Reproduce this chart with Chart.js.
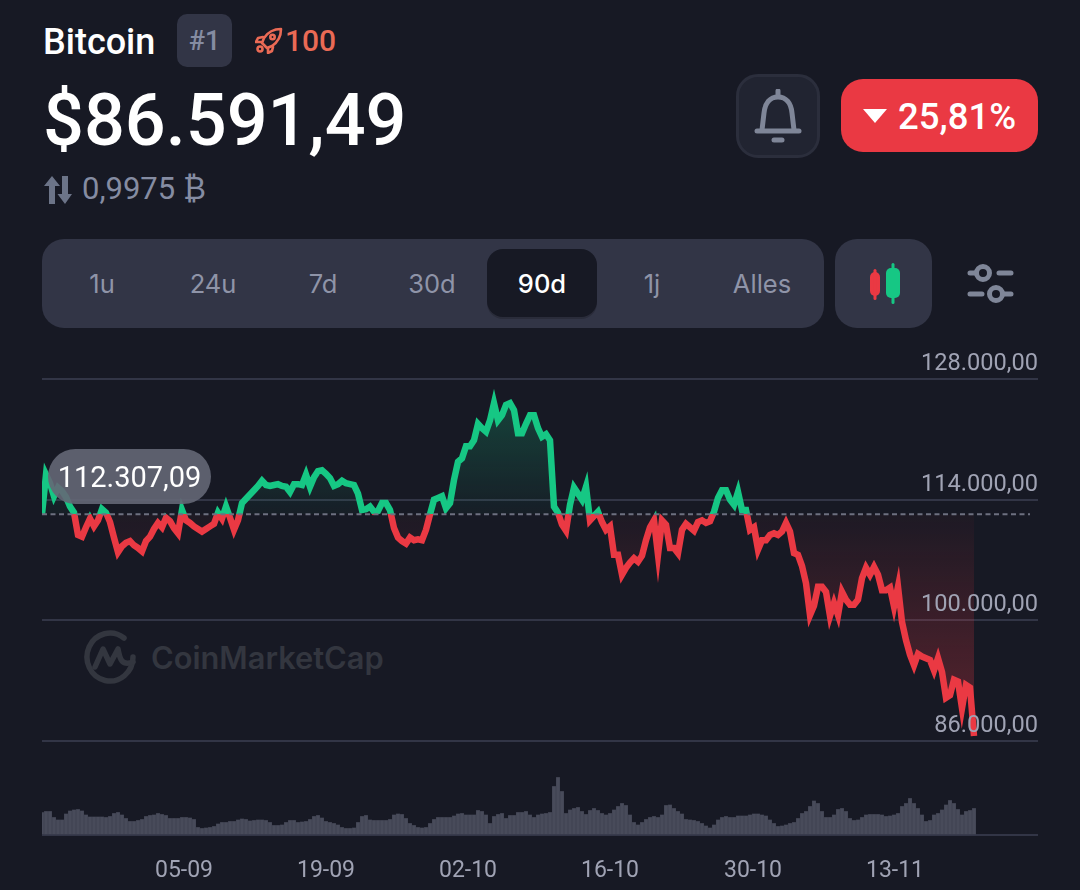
<!DOCTYPE html>
<html>
<head>
<meta charset="utf-8">
<title>Bitcoin</title>
<script src="https://cdn.jsdelivr.net/npm/chart.js@4"></script>
<style>
  html, body { margin: 0; padding: 0; background: #171924; }
  body { position: relative; width: 1080px; height: 890px; overflow: hidden; font-family: Roboto, sans-serif; color: #fff; }
  #page > * { position: absolute; }
  .center { display: flex; align-items: center; justify-content: center; }
  .tab { top: 249px; height: 68px; width: 110px; font-family: Inter, sans-serif; font-size: 25.5px; color: #8f94a8; }
  #chartBox { left: 0; top: 0; width: 1080px; height: 890px; }
  #mark { left: 84px; top: 630px; display: flex; align-items: center; gap: 15px; color: #33363f; font-family: Inter, sans-serif; font-weight: 600; font-size: 30.8px; }
</style>
</head>
<body>
<div id="page">
  <div style="left:43px;top:20px;font-size:36px;font-weight:500;line-height:44px">Bitcoin</div>
  <div class="center" style="left:177px;top:14px;width:55px;height:53px;border-radius:10px;background:#323546;color:#858ca2;font-size:27px;font-weight:500">#1</div>
  <svg style="left:255px;top:27px" width="28" height="27" viewBox="0 0 28 27" fill="none" stroke="#ea6a55" stroke-width="2.6" stroke-linejoin="round" stroke-linecap="round">
    <path d="M9 11 C13 5 19 2 26 2 C26 9 23 15 17 19 L12 21 L7 16 Z"/><circle cx="17.5" cy="10" r="2.2"/><path d="M8 10 L3 11 L1 15 L6 15 M18 20 L17 24 L13 26 L13 21"/><circle cx="5" cy="22" r="2.5"/>
  </svg>
  <div style="left:285px;top:23px;font-size:30px;font-weight:500;line-height:36px;color:#ea6a55">100</div>
  <div style="left:43px;top:78px;font-size:72px;font-weight:500;line-height:86px">$86.591,49</div>
  <svg style="left:42px;top:175px" width="30" height="30" viewBox="0 0 30 30" fill="#6c7488">
    <path d="M10 1 L18 11 L13 11 L13 29 L7 29 L7 11 L2 11 Z"/><path d="M20 1 L26 1 L26 19 L30 19 L23 29 L15.5 19 L20 19 Z"/>
  </svg>
  <div style="left:82px;top:171px;font-size:31px;line-height:36px;color:#858ca2">0,9975 ₿</div>

  <div class="center" style="left:736px;top:74px;width:78px;height:78px;border:3px solid #2b2e3c;border-radius:22px;background:#212431">
    <svg width="48" height="54" viewBox="0 0 48 54" fill="none" stroke="#7f8698" stroke-width="5" stroke-linecap="round" stroke-linejoin="round">
      <path d="M24 2 L24 6"/><path d="M8 41 L10 24 C11 14 16 8 24 8 C32 8 37 14 38 24 L40 41"/><path d="M3 42 L45 42"/><path d="M20 51 L28 51"/>
    </svg>
  </div>
  <div style="left:841px;top:79px;width:197px;height:73px;border-radius:22px;background:#ea3943"></div>
  <svg style="left:863px;top:109px" width="24" height="14" viewBox="0 0 24 14"><path d="M0 0 L24 0 L12 14 Z" fill="#fff"/></svg>
  <div style="left:898px;top:96px;font-size:36.5px;font-weight:500;line-height:42px">25,81%</div>

  <div style="left:42px;top:239px;width:782px;height:89px;border-radius:22px;background:#323546"></div>
  <div style="left:487px;top:249px;width:110px;height:68px;border-radius:16px;background:#171924;box-shadow:0 2px 0 #2a2c3a"></div>
  <div class="tab center" style="left:47px">1u</div>
  <div class="tab center" style="left:158px">24u</div>
  <div class="tab center" style="left:268px">7d</div>
  <div class="tab center" style="left:377px">30d</div>
  <div class="tab center" style="left:487px;color:#fff;font-weight:500">90d</div>
  <div class="tab center" style="left:597px">1j</div>
  <div class="tab center" style="left:707px">Alles</div>

  <div style="left:835px;top:239px;width:97px;height:89px;border-radius:22px;background:#323546"></div>
  <svg style="left:868px;top:262px" width="36" height="44" viewBox="0 0 36 44">
    <rect x="2" y="10" width="10" height="24" rx="5" fill="#ea3943"/><rect x="5.5" y="7" width="3" height="31" rx="1.5" fill="#ea3943"/>
    <rect x="18" y="6" width="14" height="30" rx="5" fill="#16c784"/><rect x="23.5" y="1" width="3" height="41" rx="1.5" fill="#16c784"/>
  </svg>
  <svg style="left:967px;top:263px" width="47" height="42" viewBox="0 0 47 42" fill="none" stroke="#7f8698" stroke-width="5" stroke-linecap="round">
    <circle cx="16" cy="10" r="6.5"/><path d="M3 10 L9 10 M32 10 L44 10"/>
    <circle cx="29" cy="31" r="6.5"/><path d="M3 31 L15 31 M36 31 L44 31"/>
  </svg>

  <div id="mark">
    <svg width="52" height="54" viewBox="0 0 52 54" fill="none" stroke="#33363f" stroke-width="5.5" stroke-linecap="round" stroke-linejoin="round">
      <path d="M49 27 A23 24 0 1 1 40 8"/><path d="M11 37 L19 19 L26 34 L34 19 C36 30 38 36 49 32"/>
    </svg>
    <span>CoinMarketCap</span>
  </div>

  <div id="chartBox"><canvas id="priceChart" width="1080" height="890"></canvas></div>
  <div class="center" style="left:48px;top:449px;width:163px;height:55px;border-radius:28px;background:rgba(100,103,118,0.9);font-size:29px;color:#fff">112.307,09</div>
</div>

<script>
// values, one sample every 9.4 hours or so
const prices = [
  112307, 116900, 115900, 114400, 115400, 115000, 114300, 113200, 112500, 109900, 109700, 110800, 111800, 110900, 111600, 112900,
  112500, 111400, 109600, 107900, 108600, 109000, 109200, 108700, 108400, 108000, 109200, 109700, 110600, 111300, 110800, 111900,
  111500, 110700, 110100, 112800, 111600, 111300, 110900, 110600, 110300, 110600, 110900, 111200, 112500, 111800, 113200, 111900,
  110500, 111600, 113600, 114100, 114600, 115100, 115600, 116200, 115700, 115600, 115700, 115800, 115600, 115500, 114900, 115800,
  115800, 115700, 116900, 115500, 116600, 117300, 117400, 117000, 116500, 115600, 115800, 116200, 115900, 115800, 115700, 114700,
  112800, 112900, 113200, 112600, 112700, 113600, 113600, 112800, 110700, 109600, 109200, 108900, 109600, 109300, 109400, 109300,
  110500, 112300, 114000, 114200, 114400, 113000, 113600, 116300, 118400, 118800, 120200, 120200, 120900, 122800, 122300, 121900,
  123200, 125200, 123200, 123800, 125000, 125200, 124400, 121700, 121700, 122800, 123800, 123800, 122300, 121300, 121600, 120900,
  113200, 112500, 111100, 110400, 113400, 115400, 114700, 114000, 115500, 111600, 112100, 112600, 111400, 110500, 110900, 107600,
  107600, 105300, 106100, 106700, 107200, 106800, 107500, 109300, 110800, 111600, 107600, 111600, 111100, 108400, 108400, 107800,
  110500, 111200, 110800, 110400, 111400, 111600, 111300, 111500, 112600, 114200, 115100, 115100, 114000, 113400, 114900, 112800,
  112800, 110500, 110800, 108200, 109300, 109300, 109900, 110100, 109900, 110300, 111300, 110300, 107800, 107600, 106300, 104300,
  100600, 101700, 103900, 103900, 103300, 100500, 102000, 100600, 103300, 102400, 101800, 101800, 102400, 104900, 106100, 105300,
  106200, 105300, 103500, 103500, 103800, 101600, 103900, 99800, 97700, 96000, 94800, 96100, 95800, 95600, 95400, 94200,
  95600, 94000, 91000, 91300, 93100, 92900, 89800, 92500, 92200, 86591
];

// traded volume per sample, billions
const volumes = [
  45, 47, 47, 35, 30, 30, 42, 48, 50, 51, 48, 40, 36, 36, 36, 36, 35, 37, 43, 45, 40, 33, 27, 27, 29, 31, 37, 39, 40, 43, 41, 39,
  33, 33, 33, 35, 35, 34, 31, 15, 13, 14, 15, 17, 22, 25, 25, 27, 27, 30, 32, 31, 28, 29, 30, 30, 29, 25, 19, 19, 20, 25, 29, 29,
  25, 26, 27, 31, 37, 39, 34, 27, 25, 23, 20, 15, 13, 13, 14, 25, 37, 39, 30, 29, 29, 29, 29, 31, 40, 42, 41, 33, 23, 19, 15, 14,
  15, 23, 31, 35, 35, 35, 35, 38, 42, 43, 40, 40, 40, 49, 47, 40, 23, 37, 41, 43, 33, 39, 39, 45, 45, 47, 40, 35, 40, 42, 43,
  45, 97, 115, 87, 43, 50, 53, 55, 47, 41, 49, 53, 49, 43, 40, 43, 50, 57, 63, 59, 40, 25, 20, 25, 31, 35, 37, 35, 40, 59, 60, 53,
  47, 42, 31, 30, 29, 27, 23, 18, 14, 20, 30, 35, 37, 35, 35, 38, 38, 38, 40, 42, 42, 40, 38, 30, 23, 17, 18, 20, 23, 25, 33, 43,
  47, 57, 68, 63, 47, 35, 35, 40, 51, 53, 47, 33, 29, 30, 35, 40, 41, 41, 41, 40, 37, 38, 40, 43, 57, 63, 73, 63, 53, 40, 27, 29,
  40, 43, 50, 60, 69, 63, 51, 40, 47, 49, 53
];

const priceTicks = [128000, 114000, 100000, 86000];
const openPrice = 112307.09;
const dateTicks = [35.5, 71, 106.5, 142, 177.75, 213.25]; // in samples from the left edge
const dateLabels = ["05-09", "19-09", "02-10", "16-10", "30-10", "13-11"];
const lastSample = 249; // empty room right of the last value

const GREEN = "#16c784";
const RED = "#ea3943";
const GRID = "#323546";
const LABEL = "#a0a3b4";

function nlNumber(v) {
  return v.toLocaleString("de-DE", { minimumFractionDigits: 2, maximumFractionDigits: 2 });
}

// hard colour change on the opening price
function lineColor(ctx) {
  const chart = ctx.chart;
  if (!chart.chartArea) return GREEN;
  const { top, bottom } = chart.chartArea;
  const stop = (chart.scales.y.getPixelForValue(openPrice) - top) / (bottom - top);
  const g = chart.ctx.createLinearGradient(0, top, 0, bottom);
  g.addColorStop(0, GREEN);
  g.addColorStop(stop, GREEN);
  g.addColorStop(stop, RED);
  g.addColorStop(1, RED);
  return g;
}

function areaColor(ctx) {
  const chart = ctx.chart;
  if (!chart.chartArea) return "transparent";
  const y = chart.scales.y;
  const high = y.getPixelForValue(Math.max(...prices));
  const low = y.getPixelForValue(Math.min(...prices));
  const stop = (y.getPixelForValue(openPrice) - high) / (low - high);
  const g = chart.ctx.createLinearGradient(0, high, 0, low);
  g.addColorStop(0, "rgba(22,199,132,0.24)");
  g.addColorStop(stop, "rgba(22,199,132,0.03)");
  g.addColorStop(stop, "rgba(234,57,67,0.03)");
  g.addColorStop(1, "rgba(234,57,67,0.32)");
  return g;
}

new Chart(document.getElementById("priceChart"), {
  data: {
    datasets: [
      {
        type: "line",
        order: 0,
        data: [{ x: 0, y: openPrice }, { x: lastSample - 2, y: openPrice }],
        borderColor: "#6d7080",
        borderWidth: 2,
        borderDash: [5, 3.5],
        pointRadius: 0,
        fill: false,
        yAxisID: "y"
      },
      {
        type: "line",
        order: 1,
        data: prices.map((p, i) => ({ x: i, y: p })),
        borderColor: lineColor,
        backgroundColor: areaColor,
        borderWidth: 6.5,
        pointRadius: 0,
        tension: 0,
        fill: { value: openPrice },
        yAxisID: "y"
      },
      {
        type: "bar",
        order: 2,
        data: volumes.map((v, i) => ({ x: i, y: v })),
        backgroundColor: "#484b5a",
        barThickness: 3.2,
        yAxisID: "yVol"
      }
    ]
  },
  options: {
    responsive: false,
    animation: false,
    layout: { padding: { left: 42, right: 42, top: 379, bottom: 0 } },
    plugins: { legend: { display: false }, tooltip: { enabled: false } },
    scales: {
      x: {
        type: "linear",
        offset: false,
        min: 0,
        max: lastSample,
        grid: { display: false },
        border: { display: false },
        afterBuildTicks: axis => { axis.ticks = dateTicks.map(v => ({ value: v })); },
        afterFit: axis => { axis.height = 55; },
        ticks: {
          autoSkip: false,
          maxRotation: 0,
          padding: 14,
          color: LABEL,
          font: { family: "Roboto", size: 23 },
          callback: v => dateLabels[dateTicks.indexOf(v)]
        }
      },
      y: {
        type: "linear",
        position: "right",
        stack: "price",
        stackWeight: 362,
        min: 86000,
        max: 128000,
        grid: { color: GRID, lineWidth: 2, drawTicks: false },
        border: { display: false },
        afterBuildTicks: axis => { axis.ticks = priceTicks.map(v => ({ value: v })); },
        afterFit: axis => { axis.width = 0; },
        ticks: {
          mirror: true,
          padding: 0,
          z: 1,
          labelOffset: -15,
          autoSkip: false,
          color: LABEL,
          font: { family: "Roboto", size: 23.6 },
          callback: v => nlNumber(v)
        }
      },
      yVol: {
        type: "linear",
        position: "right",
        stack: "price",
        stackWeight: 94,
        min: 0,
        max: 188,
        grid: { color: GRID, lineWidth: 2, drawTicks: false },
        border: { display: false },
        afterBuildTicks: axis => { axis.ticks = [{ value: 0 }]; },
        afterFit: axis => { axis.width = 0; },
        ticks: { display: false }
      }
    }
  }
});
</script>
</body>
</html>
